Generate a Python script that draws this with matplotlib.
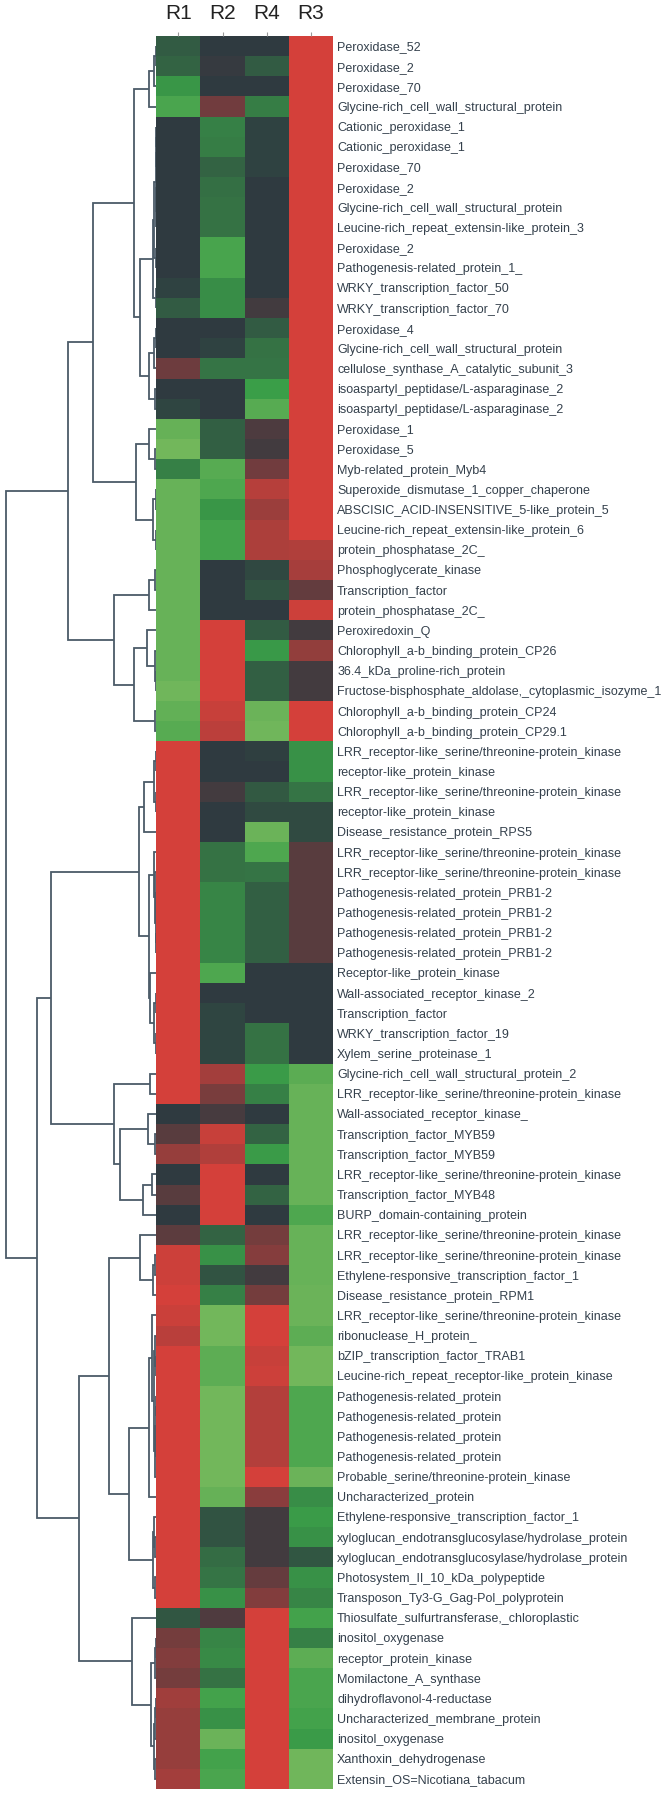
import numpy as np
import matplotlib
matplotlib.use("Agg")
import matplotlib.pyplot as plt
from matplotlib.colors import LinearSegmentedColormap

# Genes in display order (top to bottom)
genes = [
    "Peroxidase_52", "Peroxidase_2", "Peroxidase_70", "Glycine-rich_cell_wall_structural_protein",
    "Cationic_peroxidase_1", "Cationic_peroxidase_1", "Peroxidase_70", "Peroxidase_2",
    "Glycine-rich_cell_wall_structural_protein", "Leucine-rich_repeat_extensin-like_protein_3",
    "Peroxidase_2", "Pathogenesis-related_protein_1_", "WRKY_transcription_factor_50",
    "WRKY_transcription_factor_70", "Peroxidase_4", "Glycine-rich_cell_wall_structural_protein",
    "cellulose_synthase_A_catalytic_subunit_3", "isoaspartyl_peptidase/L-asparaginase_2",
    "isoaspartyl_peptidase/L-asparaginase_2", "Peroxidase_1", "Peroxidase_5",
    "Myb-related_protein_Myb4", "Superoxide_dismutase_1_copper_chaperone",
    "ABSCISIC_ACID-INSENSITIVE_5-like_protein_5", "Leucine-rich_repeat_extensin-like_protein_6",
    "protein_phosphatase_2C_", "Phosphoglycerate_kinase", "Transcription_factor",
    "protein_phosphatase_2C_", "Peroxiredoxin_Q", "Chlorophyll_a-b_binding_protein_CP26",
    "36.4_kDa_proline-rich_protein", "Fructose-bisphosphate_aldolase,_cytoplasmic_isozyme_1",
    "Chlorophyll_a-b_binding_protein_CP24", "Chlorophyll_a-b_binding_protein_CP29.1",
    "LRR_receptor-like_serine/threonine-protein_kinase", "receptor-like_protein_kinase",
    "LRR_receptor-like_serine/threonine-protein_kinase", "receptor-like_protein_kinase",
    "Disease_resistance_protein_RPS5", "LRR_receptor-like_serine/threonine-protein_kinase",
    "LRR_receptor-like_serine/threonine-protein_kinase", "Pathogenesis-related_protein_PRB1-2",
    "Pathogenesis-related_protein_PRB1-2", "Pathogenesis-related_protein_PRB1-2",
    "Pathogenesis-related_protein_PRB1-2", "Receptor-like_protein_kinase",
    "Wall-associated_receptor_kinase_2", "Transcription_factor", "WRKY_transcription_factor_19",
    "Xylem_serine_proteinase_1", "Glycine-rich_cell_wall_structural_protein_2",
    "LRR_receptor-like_serine/threonine-protein_kinase", "Wall-associated_receptor_kinase_",
    "Transcription_factor_MYB59", "Transcription_factor_MYB59",
    "LRR_receptor-like_serine/threonine-protein_kinase", "Transcription_factor_MYB48",
    "BURP_domain-containing_protein", "LRR_receptor-like_serine/threonine-protein_kinase",
    "LRR_receptor-like_serine/threonine-protein_kinase", "Ethylene-responsive_transcription_factor_1",
    "Disease_resistance_protein_RPM1", "LRR_receptor-like_serine/threonine-protein_kinase",
    "ribonuclease_H_protein_", "bZIP_transcription_factor_TRAB1",
    "Leucine-rich_repeat_receptor-like_protein_kinase", "Pathogenesis-related_protein",
    "Pathogenesis-related_protein", "Pathogenesis-related_protein", "Pathogenesis-related_protein",
    "Probable_serine/threonine-protein_kinase", "Uncharacterized_protein",
    "Ethylene-responsive_transcription_factor_1", "xyloglucan_endotransglucosylase/hydrolase_protein",
    "xyloglucan_endotransglucosylase/hydrolase_protein", "Photosystem_II_10_kDa_polypeptide",
    "Transposon_Ty3-G_Gag-Pol_polyprotein", "Thiosulfate_sulfurtransferase,_chloroplastic",
    "inositol_oxygenase", "receptor_protein_kinase", "Momilactone_A_synthase",
    "dihydroflavonol-4-reductase", "Uncharacterized_membrane_protein", "inositol_oxygenase",
    "Xanthoxin_dehydrogenase", "Extensin_OS=Nicotiana_tabacum",
]

samples = ["R1", "R2", "R4", "R3"]

# scaled expression (green = low, red = high)
r1 = [-0.2, -0.25, -0.55, -0.7, 0, 0, 0, 0, 0, 0, 0, 0, -0.05, -0.2, 0, 0, 0.38, 0, -0.07,
      -0.87, -0.95, -0.42, -0.88, -0.88, -0.88, -0.88, -0.88, -0.88, -0.88, -0.88, -0.88, -0.88,
      -0.93, -0.85, -0.78, 1, 1, 1, 1, 1, 1, 1, 1, 1, 1, 1, 1, 1, 1, 1, 1, 1, 1, 0, 0.25, 0.62,
      0, 0.25, 0, 0.28, 0.95, 0.95, 1, 0.93, 0.83, 1, 1, 1, 1, 1, 1, 1, 1, 1, 1, 1, 1, 1,
      -0.17, 0.42, 0.5, 0.42, 0.68, 0.62, 0.62, 0.62, 0.7]
r2 = [0, 0.05, 0, 0.4, -0.42, -0.4, -0.25, -0.32, -0.33, -0.33, -0.68, -0.68, -0.5, -0.5, 0,
      -0.05, -0.35, 0, 0, -0.22, -0.22, -0.78, -0.72, -0.55, -0.65, -0.65, 0, 0, 0, 1, 1, 1, 1,
      0.92, 0.85, 0, 0, 0.13, 0, 0, -0.33, -0.33, -0.45, -0.45, -0.45, -0.45, -0.72, 0, -0.07,
      -0.07, -0.07, 0.7, 0.45, 0.15, 0.92, 0.78, 1, 1, 1, -0.25, -0.52, -0.15, -0.42, -0.95,
      -0.95, -0.82, -0.82, -0.95, -0.95, -0.95, -0.95, -0.95, -0.87, -0.15, -0.15, -0.3, -0.35,
      -0.52, 0.2, -0.45, -0.48, -0.33, -0.65, -0.52, -0.9, -0.65, -0.7]
r4 = [0, -0.2, 0, -0.4, -0.05, -0.05, -0.05, 0, 0, 0, 0, 0, 0, 0.12, -0.2, -0.33, -0.35, -0.6,
      -0.78, 0.18, 0.12, 0.4, 0.82, 0.65, 0.75, 0.75, -0.08, -0.15, 0, -0.2, -0.57, -0.22, -0.22,
      -0.9, -0.93, -0.03, 0, -0.18, -0.1, -0.9, -0.72, -0.35, -0.22, -0.22, -0.22, -0.22, 0, 0,
      0, -0.33, -0.33, -0.58, -0.42, 0, -0.25, -0.58, 0, -0.25, 0, 0.42, 0.52, 0.12, 0.42, 1,
      1, 0.92, 0.95, 0.8, 0.8, 0.8, 0.8, 1, 0.55, 0.12, 0.12, 0.12, 0.33, 0.5, 1, 1, 1, 1, 1,
      1, 1, 1, 1]
r3 = [1, 1, 1, 1, 1, 1, 1, 1, 1, 1, 1, 1, 1, 1, 1, 1, 1, 1, 1, 1, 1, 1, 1, 1, 1, 0.78, 0.72,
      0.32, 0.95, 0.12, 0.6, 0.13, 0.13, 1, 1, -0.52, -0.52, -0.35, -0.1, -0.1, 0.25, 0.25, 0.25,
      0.25, 0.25, 0.25, 0, 0, 0, 0, 0, -0.8, -0.88, -0.88, -0.88, -0.88, -0.88, -0.88, -0.72,
      -0.88, -0.88, -0.88, -0.9, -0.9, -0.82, -0.95, -0.95, -0.72, -0.72, -0.72, -0.72, -0.9,
      -0.5, -0.58, -0.52, -0.17, -0.52, -0.45, -0.65, -0.42, -0.82, -0.7, -0.7, -0.65, -0.58,
      -0.93, -0.93]

# row dendrogram: (name, left, right, height); ints are rows, strings earlier merges
merges = [
    ("a1", 0, 1, 0.6), ("a2", "a1", 2, 2.3), ("a3", "a2", 3, 7.3),
    ("b1", 4, 5, 0.3), ("b2", "b1", 6, 0.5), ("b3", 7, 8, 0.3), ("b4", "b3", 9, 0.5),
    ("b5", "b2", "b4", 0.8), ("b6", 10, 11, 0.6), ("b7", "b5", "b6", 2.3),
    ("b8", 12, 13, 0.8), ("b9", "b7", "b8", 3.6),
    ("c1", 14, 15, 0.5), ("c2", "c1", 16, 2.5), ("c3", 17, 18, 1.0), ("c4", "c2", "c3", 7.3),
    ("c5", "b9", "c4", 16.3), ("c6", "a3", "c5", 22.3),
    ("d1", 20, 21, 1.0), ("d2", 19, "d1", 7.0), ("d3", 22, 23, 0.5), ("d4", 24, 25, 0.5),
    ("d5", "d3", "d4", 3.3), ("d6", "d2", "d5", 20.0), ("d7", "c6", "d6", 63.0),
    ("e1", 26, 27, 1.0), ("e2", "e1", 28, 7.0), ("e3", 31, 32, 0.5), ("e4", 30, "e3", 1.0),
    ("e5", 29, "e4", 9.6), ("e6", 33, 34, 1.0), ("e7", "e5", "e6", 22.0),
    ("e8", "e2", "e7", 42.0), ("top", "d7", "e8", 88.0),
    ("f1", 35, 36, 0.5), ("f2", 37, 38, 0.5), ("f3", "f1", "f2", 2.0), ("f4", "f3", 39, 12.0),
    ("f5", 42, 43, 0.3), ("f6", 44, 45, 0.3), ("f7", "f5", "f6", 0.6), ("f8", 41, "f7", 1.0),
    ("f9", 40, "f8", 2.0), ("g1", 47, 48, 0.5), ("g2", 49, 50, 0.5), ("g3", "g1", "g2", 2.0),
    ("g4", 46, "g3", 6.0), ("g5", "f9", "g4", 7.6), ("g6", "f4", "g5", 17.0),
    ("h1", 51, 52, 6.0), ("h2", 54, 55, 1.0), ("h3", 53, "h2", 8.6), ("h4", 56, 57, 4.0),
    ("h5", "h4", 58, 13.6), ("h6", "h3", "h5", 36.0), ("h7", "h1", "h6", 42.0),
    ("h8", "g6", "h7", 105.0),
    ("i1", 60, 61, 1.0), ("i2", "i1", 62, 3.0), ("i3", 59, "i2", 16.0),
    ("j1", 65, 66, 0.5), ("j2", 64, "j1", 1.5), ("j3", 67, 68, 0.2), ("j4", 69, 70, 0.2),
    ("j5", "j3", "j4", 0.5), ("j6", "j5", 71, 1.0), ("j7", "j2", "j6", 2.5), ("j8", 63, "j7", 4.0),
    ("j9", "j8", 72, 7.3), ("k1", 74, 75, 1.0), ("k2", 73, "k1", 2.0), ("k3", 76, 77, 1.0),
    ("k4", "k2", "k3", 3.5), ("k5", "j9", "k4", 27.0), ("k6", "i3", "k5", 47.0),
    ("l1", 79, 80, 0.5), ("l2", "l1", 81, 1.5), ("l3", 82, 83, 0.5), ("l4", "l3", 84, 1.0),
    ("l5", 85, 86, 1.0), ("l6", "l4", "l5", 2.0), ("l7", "l2", "l6", 5.6), ("l8", 78, "l7", 24.6),
    ("l9", "k6", "l8", 77.0), ("bottom", "h8", "l9", 119.6),
    ("root", "top", "bottom", 150.3),
]

W, H = 664, 1795
hm_left, hm_right, hm_top, hm_bottom = 156.3, 333, 36, 1789

cmap = LinearSegmentedColormap.from_list(
    "gkr", [(0, "#7aba5e"), (0.2, "#3a9e48"), (0.5, "#2e3a40"), (1.0, "#d4403a")])

plt.rcParams['font.family'] = ['Liberation Sans', 'DejaVu Sans']

fig = plt.figure(figsize=(W / 100, H / 100), dpi=100)
ax = fig.add_axes([hm_left / W, 1 - hm_bottom / H, (hm_right - hm_left) / W,
                   (hm_bottom - hm_top) / H])
dax = fig.add_axes([0, 1 - hm_bottom / H, hm_left / W, (hm_bottom - hm_top) / H])

n = len(genes)
data = np.array([r1, r2, r4, r3]).T
ax.pcolormesh(np.arange(len(samples) + 1), np.arange(n + 1), data, cmap=cmap,
              vmin=-1, vmax=1, shading="flat")
ax.set_xlim(0, len(samples))
ax.set_ylim(n, 0)
for s in ax.spines.values():
    s.set_visible(False)
ax.xaxis.tick_top()
ax.set_xticks(np.arange(len(samples)) + 0.5)
ax.set_xticklabels(samples, fontsize=15, color="#222222")
ax.tick_params(axis="x", length=3, width=0.8, color="#999999", pad=6.5)
ax.yaxis.tick_right()
ax.set_yticks(np.arange(n) + 0.5)
ax.set_yticklabels(genes, fontsize=9, color="#34404c")
ax.tick_params(axis="y", length=0, pad=3)

# dendrogram
pos = {}
hgt = {}
for i in range(n):
    pos[i] = i + 0.5
    hgt[i] = 0.0
lc = "#4b5b68"
for name, a, b, h in merges:
    ya, yb = pos[a], pos[b]
    dax.plot([hgt[a], h, h, hgt[b]], [ya, ya, yb, yb], color=lc, lw=1.3,
             solid_joinstyle="miter", solid_capstyle="butt")
    pos[name] = (ya + yb) / 2
    hgt[name] = h
dax.set_xlim(hm_left, 0)
dax.set_ylim(n, 0)
dax.axis("off")

fig.savefig("out.png", dpi=100)
